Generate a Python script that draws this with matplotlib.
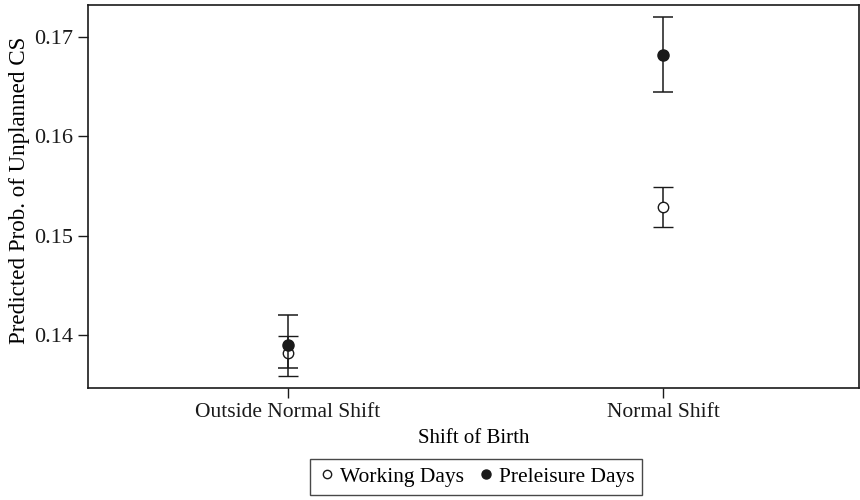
import matplotlib.pyplot as plt
from matplotlib.lines import Line2D

plt.rcParams['font.family'] = ['Liberation Serif', 'DejaVu Serif']

shifts = ["Outside Normal Shift", "Normal Shift"]
xpos = [0, 1]

working = [0.1382, 0.1529]
working_lo = [0.1359, 0.1509]
working_hi = [0.1399, 0.1549]

preleisure = [0.1390, 0.1682]
preleisure_lo = [0.1367, 0.1645]
preleisure_hi = [0.1420, 0.1720]

ink = '#1a1a1a'

fig = plt.figure(figsize=(8.6, 5), dpi=100)
ax = fig.add_axes([0.1023, 0.224, 0.896, 0.766])

def err(v, lo, hi):
    return [[a - b for a, b in zip(v, lo)], [c - a for a, c in zip(v, hi)]]

ax.errorbar(xpos, preleisure, yerr=err(preleisure, preleisure_lo, preleisure_hi),
            fmt='o', color=ink, mfc=ink, mec=ink, ms=8,
            ecolor=ink, elinewidth=1.1, capsize=7, capthick=1.1, zorder=3)
ax.errorbar(xpos, working, yerr=err(working, working_lo, working_hi),
            fmt='o', color=ink, mfc='white', mec=ink, ms=7.5, mew=1.0,
            ecolor=ink, elinewidth=1.1, capsize=7, capthick=1.1, zorder=2)

ax.set_xlim(-0.532, 1.52)
ax.set_ylim(0.13466, 0.17322)
ax.set_xticks(xpos)
ax.set_xticklabels(shifts)
ax.set_yticks([0.14, 0.15, 0.16, 0.17])
ax.set_yticklabels(['0.14', '0.15', '0.16', '0.17'])
ax.tick_params(length=7, width=1, colors=ink, pad=4)
ax.tick_params(axis='x', labelsize=15.5)
ax.tick_params(axis='y', labelsize=16)
for s in ax.spines.values():
    s.set_linewidth(1.2)
    s.set_color(ink)

ax.set_xlabel("Shift of Birth", fontsize=15, labelpad=5)
ax.set_ylabel("Predicted Prob. of Unplanned CS", fontsize=16.6)
ax.yaxis.set_label_coords(-0.075, 0.515)

handles = [
    Line2D([], [], ls='none', marker='o', ms=6, mfc='white', mec=ink, mew=1.0),
    Line2D([], [], ls='none', marker='o', ms=6.5, mfc=ink, mec=ink),
]
leg = fig.legend(handles, ['Working Days', 'Preleisure Days'], loc='center',
                 bbox_to_anchor=(476/860, 1 - 477/500),
                 ncol=2, fontsize=15.5, frameon=True, fancybox=False, edgecolor=ink,
                 handletextpad=0.15, columnspacing=0.6, handlelength=0.9, borderpad=0.35)
leg.get_frame().set_linewidth(1.0)

fig.savefig('out.png', dpi=100)
